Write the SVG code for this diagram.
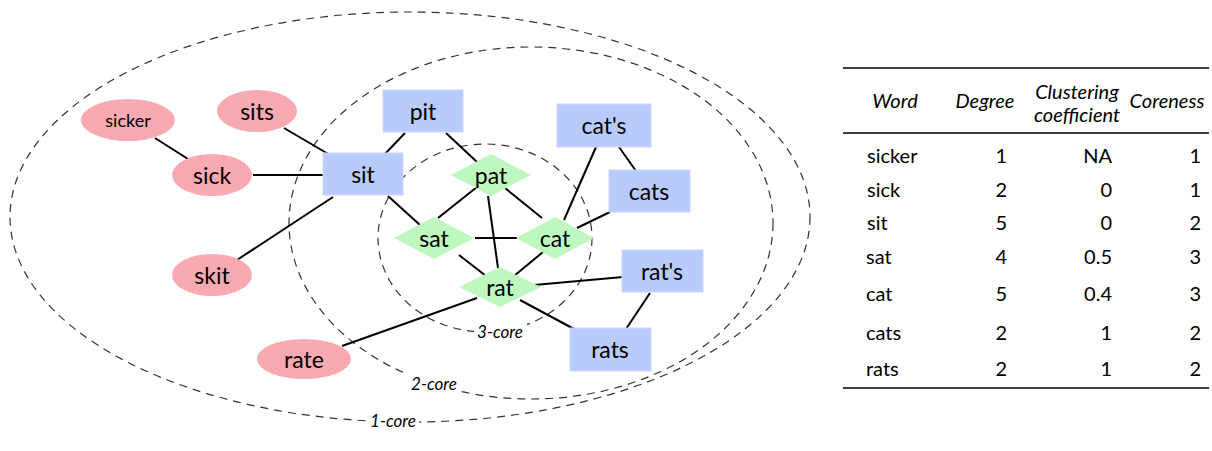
<svg xmlns="http://www.w3.org/2000/svg" width="1212" height="451" viewBox="0 0 1212 451">
<style>
text{font-family:Lato,"Open Sans","DejaVu Sans",sans-serif;fill:#000}
.core{fill:none;stroke:#333;stroke-width:1.2;stroke-dasharray:8 6}
.lbl{font-size:17px;font-style:italic;text-anchor:middle}
.ell{fill:#f9a9b1}
.rect{fill:#b9cbfd;stroke:#cbd8fd;stroke-width:1}
.dia{fill:#bff8bf}
.nt{font-size:23px;text-anchor:middle;dominant-baseline:central}
.edges line{stroke:#000;stroke-width:2;stroke-linecap:butt}
.th{font-size:20px;font-style:italic;text-anchor:middle}
.td{font-size:20px}
.r{text-anchor:end}
.rule{stroke:#000;stroke-width:1.6}
</style>
<g id="cores">
<ellipse class="core" cx="410" cy="217" rx="400" ry="205"/>
<ellipse class="core" cx="531" cy="223" rx="242" ry="176"/>
<ellipse class="core" cx="485" cy="238" rx="107" ry="94"/>
<rect x="474" y="321" width="53" height="20" fill="#fff"/>
<rect x="407" y="373" width="54" height="20" fill="#fff"/>
<rect x="367" y="410" width="52" height="20" fill="#fff"/>
<text class="lbl" x="500" y="338">3-core</text>
<text class="lbl" x="434" y="390">2-core</text>
<text class="lbl" x="393" y="427">1-core</text>
</g>
<g class="edges" id="connectors">
<line x1="155" y1="138" x2="188" y2="159"/>
<line x1="284" y1="128" x2="330" y2="155"/>
<line x1="253" y1="175" x2="325" y2="175"/>
<line x1="405" y1="133" x2="384" y2="155"/>
<line x1="333" y1="197" x2="237" y2="260"/>
<line x1="388" y1="196" x2="420" y2="225"/>
<line x1="446" y1="133" x2="477" y2="162"/>
<line x1="477" y1="187" x2="438" y2="218"/>
<line x1="505" y1="188" x2="542" y2="218"/>
<line x1="488" y1="196" x2="498" y2="268"/>
<line x1="475" y1="238" x2="517" y2="238"/>
<line x1="459" y1="255" x2="486" y2="276"/>
<line x1="543" y1="252" x2="514" y2="276"/>
<line x1="564" y1="220" x2="596" y2="147"/>
<line x1="619" y1="147" x2="636" y2="171"/>
<line x1="577" y1="228" x2="610" y2="212"/>
<line x1="534" y1="285" x2="623" y2="277"/>
<line x1="520" y1="300" x2="574" y2="329"/>
<line x1="650" y1="293" x2="626" y2="329"/>
<line x1="477" y1="298" x2="342" y2="346"/>
</g>
<g id="n-sicker"><ellipse class="ell" cx="128" cy="120" rx="47" ry="21"/><text class="nt" x="128" y="120" style="font-size:18px">sicker</text></g>
<g id="n-sits"><ellipse class="ell" cx="257" cy="111" rx="40" ry="21"/><text class="nt" x="257" y="111">sits</text></g>
<g id="n-sick"><ellipse class="ell" cx="212" cy="175" rx="40" ry="21"/><text class="nt" x="212" y="175">sick</text></g>
<g id="n-skit"><ellipse class="ell" cx="212" cy="275" rx="40" ry="21"/><text class="nt" x="212" y="275">skit</text></g>
<g id="n-rate"><ellipse class="ell" cx="304" cy="359" rx="47" ry="20"/><text class="nt" x="304" y="359">rate</text></g>
<g id="n-sit"><rect class="rect" x="323" y="153" width="80" height="42"/><text class="nt" x="363" y="174">sit</text></g>
<g id="n-pit"><rect class="rect" x="383" y="90" width="80" height="42"/><text class="nt" x="423" y="111">pit</text></g>
<g id="n-cats-poss"><rect class="rect" x="557" y="104" width="94" height="43"/><text class="nt" x="604" y="125">cat's</text></g>
<g id="n-cats"><rect class="rect" x="609" y="170" width="81" height="42"/><text class="nt" x="649" y="191">cats</text></g>
<g id="n-rats-poss"><rect class="rect" x="622" y="250" width="81" height="42"/><text class="nt" x="662" y="271">rat's</text></g>
<g id="n-rats"><rect class="rect" x="570" y="328" width="81" height="43"/><text class="nt" x="610" y="349">rats</text></g>
<g id="n-pat"><polygon class="dia" points="451,175 491,154 531,175 491,196"/><text class="nt" x="491" y="175">pat</text></g>
<g id="n-sat"><polygon class="dia" points="394,238 434,217 474,238 434,259"/><text class="nt" x="434" y="238">sat</text></g>
<g id="n-cat"><polygon class="dia" points="516,238 555,217 594,238 555,259"/><text class="nt" x="555" y="238">cat</text></g>
<g id="n-rat"><polygon class="dia" points="459,287 500,267 541,287 500,307"/><text class="nt" x="500" y="287">rat</text></g>
<g id="table">
<line class="rule" x1="843" y1="68" x2="1209" y2="68"/>
<line class="rule" x1="843" y1="133" x2="1209" y2="133"/>
<line class="rule" x1="843" y1="388" x2="1209" y2="388"/>
<text class="th" x="895" y="108">Word</text>
<text class="th" x="985" y="108">Degree</text>
<text class="th" x="1077" y="99">Clustering</text>
<text class="th" x="1077" y="122">coefficient</text>
<text class="th" x="1167" y="108">Coreness</text>
<g class="td">
<text x="867" y="163">sicker</text><text class="r" x="1007" y="163">1</text><text class="r" x="1112" y="163">NA</text><text class="r" x="1201" y="163">1</text>
<text x="867" y="197">sick</text><text class="r" x="1007" y="197">2</text><text class="r" x="1112" y="197">0</text><text class="r" x="1201" y="197">1</text>
<text x="867" y="230">sit</text><text class="r" x="1007" y="230">5</text><text class="r" x="1112" y="230">0</text><text class="r" x="1201" y="230">2</text>
<text x="866" y="264">sat</text><text class="r" x="1007" y="264">4</text><text class="r" x="1112" y="264">0.5</text><text class="r" x="1201" y="264">3</text>
<text x="866" y="301">cat</text><text class="r" x="1007" y="301">5</text><text class="r" x="1112" y="301">0.4</text><text class="r" x="1201" y="301">3</text>
<text x="866" y="340">cats</text><text class="r" x="1007" y="340">2</text><text class="r" x="1112" y="340">1</text><text class="r" x="1201" y="340">2</text>
<text x="866" y="376">rats</text><text class="r" x="1007" y="376">2</text><text class="r" x="1112" y="376">1</text><text class="r" x="1201" y="376">2</text>
</g>
</g>
</svg>
